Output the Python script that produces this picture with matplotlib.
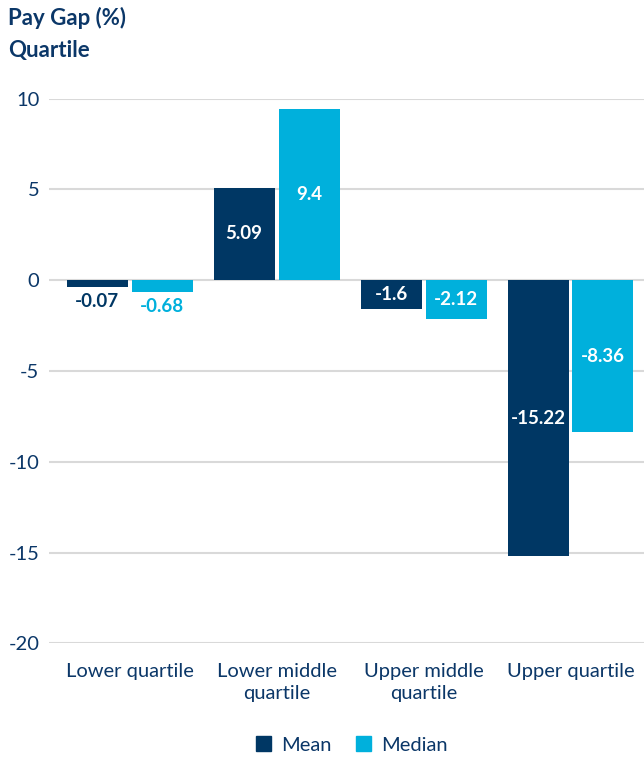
import numpy as np
import matplotlib
matplotlib.use("Agg")
import matplotlib.pyplot as plt
from matplotlib.patches import Patch

plt.rcParams['font.family'] = ['Lato', 'DejaVu Sans']

categories = ['Lower quartile', 'Lower middle\nquartile', 'Upper middle\nquartile', 'Upper quartile']
mean_gap = [-0.07, 5.09, -1.6, -15.22]
median_gap = [-0.68, 9.4, -2.12, -8.36]
mean_labels = ['-0.07', '5.09', '-1.6', '-15.22']
median_labels = ['-0.68', '9.4', '-2.12', '-8.36']
y_ticks = [10, 5, 0, -5, -10, -15, -20]

NAVY = '#003764'
CYAN = '#00b0dc'
TEXT = '#0b3768'
GRID = '#d9d9d9'
MIN_BAR = 0.38  # tiny values still get a visible sliver
BAR_W = 0.415
OFFSET = 0.221

fig = plt.figure(figsize=(6.44, 7.6), dpi=100)
ax = fig.add_axes([49 / 644, 1 - 643.3 / 760, 595 / 644, 544.8 / 760])

x = np.arange(len(categories))


def draw_series(values, labels, xpos, color):
    shown = [v if abs(v) >= MIN_BAR else np.sign(v) * MIN_BAR for v in values]
    bars = ax.bar(xpos, shown, width=BAR_W, color=color, zorder=3)
    for b, v, lab in zip(bars, shown, labels):
        cx = b.get_x() + b.get_width() / 2
        if abs(v) >= 1.2:
            ax.text(cx, v / 2, lab, ha='center', va='center', color='white',
                    fontsize=13.5, fontweight='bold', zorder=4)
        else:
            ax.annotate(lab, (cx, v), xytext=(0, -4), textcoords='offset points',
                        ha='center', va='top', color=color, fontsize=13.5,
                        fontweight='bold', zorder=4)


draw_series(mean_gap, mean_labels, x - OFFSET, NAVY)
draw_series(median_gap, median_labels, x + OFFSET, CYAN)

ax.set_xlim(-0.548, 3.5)
ax.set_ylim(-20, 10)
ax.set_yticks(y_ticks)
ax.set_yticklabels([str(t) for t in y_ticks])
ax.set_xticks(x)
ax.set_xticklabels(categories, linespacing=1.35)
ax.tick_params(axis='both', length=0, colors=TEXT, labelsize=14.5)
ax.tick_params(axis='y', pad=7)
ax.tick_params(axis='x', pad=14)
ax.grid(axis='y', color=GRID, linewidth=1.5, zorder=0)
for s in ax.spines.values():
    s.set_visible(False)

fig.text(8 / 644, 1 - 18 / 760, 'Pay Gap (%)', fontsize=16, fontweight='bold',
         color=TEXT, va='center', ha='left')
fig.text(8 / 644, 1 - 50 / 760, 'Quartile', fontsize=16, fontweight='bold',
         color=TEXT, va='center', ha='left')

handles = [Patch(color=NAVY, label='Mean'), Patch(color=CYAN, label='Median')]
fig.legend(handles=handles, loc='center', bbox_to_anchor=(352 / 644, 1 - 745 / 760),
           ncol=2, frameon=False, fontsize=14.5, labelcolor=TEXT,
           handlelength=0.75, handleheight=0.75, handletextpad=0.5, columnspacing=1.2)

fig.savefig('out.png', dpi=100)
